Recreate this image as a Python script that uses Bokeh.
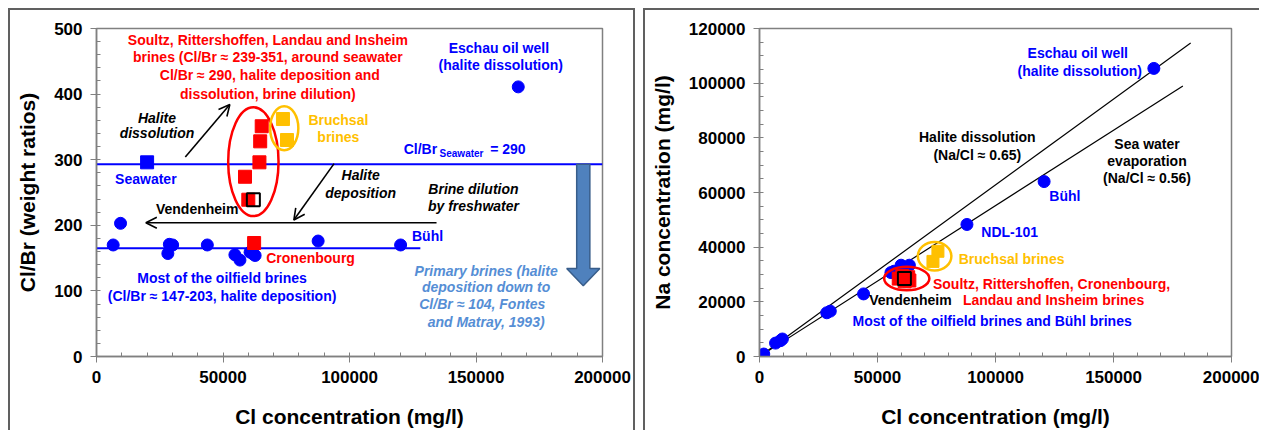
from bokeh.plotting import figure
from bokeh.layouts import row
from bokeh.models import Range1d, FixedTicker, Arrow, OpenHead
from bokeh.core.properties import value
from bokeh.embed import file_html
from bokeh.resources import INLINE

FONT = "Liberation Sans"

# ---------------- Left panel data: Cl (mg/l) vs Cl/Br (weight ratio) ----------------
oil_cl = [6600, 9500, 28200, 28800, 30100, 43800, 54700, 56700, 60700, 62000, 62700, 87600, 120200]
oil_clbr = [170, 203, 157, 171, 170, 170, 155, 147, 159, 156, 154, 176, 170]
eschau_cl = [166700]
eschau_clbr = [411]
seawater_cl = [20000]
seawater_clbr = [296]
red_cl = [58700, 60000, 64400, 64700, 65300, 62300]
red_clbr = [274, 239, 296, 328, 351, 173]
vend_cl = [62000]
vend_clbr = [239]
bruch_cl = [73700, 75300]
bruch_clbr = [362, 330]
seawater_ratio_line = 293
oilfield_ratio_line = 165
oilfield_line_end = 128000

# ---------------- Right panel data: Cl vs Na (mg/l) ----------------
na_blue_cl = [1800, 6800, 8900, 9700, 28500, 30000, 44100, 55700, 57000, 60000, 62000, 63500, 87900, 120600, 167100]
na_blue_na = [900, 4900, 5800, 6400, 16000, 16600, 22900, 30700, 31200, 33400, 32500, 33400, 48300, 64000, 105400]
na_red_cl = [59000, 60500, 62000, 63000, 63500, 61500]
na_red_na = [28500, 29500, 28000, 29000, 27800, 27500]
na_vend_cl = [61400]
na_vend_na = [28500]
na_bruch_cl = [73500, 75600]
na_bruch_na = [34800, 38500]
halite_line_cl = [0, 182700]
halite_line_na = [0, 114700]
sea_line_cl = [0, 179400]
sea_line_na = [0, 99000]

BLUE = "#0000FF"
RED = "#FF0000"
ORANGE = "#FFC000"
LBLUE = "#558ED5"
GRAY = "#808080"
ANN = "14px"


def style_axes(p, xticks, xminor, yticks, yminor):
    p.xaxis.ticker = FixedTicker(ticks=xticks, minor_ticks=xminor)
    p.yaxis.ticker = FixedTicker(ticks=yticks, minor_ticks=yminor)
    for ax in (p.xaxis, p.yaxis):
        ax.formatter.use_scientific = False
        ax.axis_line_color = GRAY
        ax.axis_line_width = 1.5
        ax.major_tick_line_color = GRAY
        ax.minor_tick_line_color = GRAY
        ax.major_tick_out = 6
        ax.major_tick_in = 0
        ax.minor_tick_in = 4
        ax.minor_tick_out = 0
        ax.major_label_text_font = FONT
        ax.major_label_text_font_style = "bold"
        ax.major_label_text_font_size = "17px"
        ax.major_label_text_color = "black"
        ax.axis_label_text_font = FONT
        ax.axis_label_text_font_style = "bold"
        ax.axis_label_text_font_size = "21px"
        ax.axis_label_text_color = "black"
        ax.major_label_standoff = 8
    p.xaxis.axis_label_standoff = 19
    p.yaxis.axis_label_standoff = 12
    p.xgrid.visible = False
    p.ygrid.visible = False
    p.outline_line_color = GRAY
    p.outline_line_width = 1.5


def txt(p, x, y, t, color="black", size=ANN, style="bold", align="center"):
    p.text(x=[x], y=[y], text=[t], text_font=value(FONT), text_font_size=size,
           text_font_style=style, text_color=color, text_align=align,
           text_baseline="middle")


def arrow(p, x0, y0, x1, y1):
    p.add_layout(Arrow(end=OpenHead(size=11, line_width=1.6, line_color="black"),
                       x_start=x0, y_start=y0, x_end=x1, y_end=y1,
                       line_width=1.6, line_color="black"))


BORDER = "2px solid #606060"

# ====================== LEFT FIGURE ======================
p1 = figure(width=627, height=422, output_backend="svg", toolbar_location=None,
            x_range=Range1d(0, 200000), y_range=Range1d(0, 500),
            min_border_left=86, min_border_right=35, min_border_top=18, min_border_bottom=74,
            styles={"border-top": BORDER, "border-left": BORDER, "border-right": BORDER,
                    "box-sizing": "border-box"})
p1.xaxis.axis_label = "Cl concentration (mg/l)"
p1.yaxis.axis_label = "Cl/Br (weight ratios)"
style_axes(p1, [0, 50000, 100000, 150000, 200000], list(range(0, 200001, 10000)),
           [0, 100, 200, 300, 400, 500], list(range(0, 501, 20)))

p1.line([0, 200000], [seawater_ratio_line, seawater_ratio_line], line_color=BLUE, line_width=2)
p1.line([0, oilfield_line_end], [oilfield_ratio_line, oilfield_ratio_line], line_color=BLUE, line_width=2)

# big blue arrow (primary brines)
p1.patch([189800, 195000, 195000, 198950, 192400, 185850, 189800, 189800],
         [293, 293, 134, 134, 108, 134, 134, 293],
         fill_color="#4F81BD", line_color="#385D8A", line_width=1.5)

p1.scatter(oil_cl, oil_clbr, marker="circle", size=12, color=BLUE)
p1.scatter(eschau_cl, eschau_clbr, marker="circle", size=12, color=BLUE)
p1.scatter(seawater_cl, seawater_clbr, marker="square", size=13, color=BLUE)
p1.scatter(red_cl, red_clbr, marker="square", size=13, color=RED)
p1.scatter(bruch_cl, bruch_clbr, marker="square", size=13, color=ORANGE)
p1.scatter(vend_cl, vend_clbr, marker="square", size=13, fill_color=None, line_color="black", line_width=2)

p1.ellipse(x=[62000], y=[297], width=19900, height=166, fill_color=None, line_color=RED, line_width=2.5)
p1.ellipse(x=[74200], y=[348], width=11150, height=67, fill_color=None, line_color=ORANGE, line_width=2.5)

arrow(p1, 35100, 304, 52700, 384)
arrow(p1, 93900, 294, 78000, 208)
arrow(p1, 134400, 204, 19500, 204)

for yy, t in zip([482.8, 455.8, 428.4, 400.9],
                 ["Soultz, Rittershoffen,  Landau and Insheim",
                  "brines (Cl/Br \u2248 239-351,  around seawater",
                  "Cl/Br \u2248 290, halite deposition and",
                  "dissolution,  brine dilution)"]):
    txt(p1, 68500, yy, t, RED)
txt(p1, 159800, 471, "Eschau  oil well", BLUE)
txt(p1, 159800, 445, "(halite dissolution)", BLUE)
txt(p1, 95600, 361, "Bruchsal", ORANGE)
txt(p1, 95600, 335, "brines", ORANGE)
txt(p1, 121400, 317, "Cl/Br", BLUE, align="left")
txt(p1, 135600, 310, "Seawater", BLUE, size="10px", align="left")
txt(p1, 155600, 317, "=  290", BLUE, align="left")
txt(p1, 104400, 276, "Halite", "black", style="bold italic")
txt(p1, 104400, 250, "deposition", "black", style="bold italic")
txt(p1, 149000, 254.6, "Brine dilution", "black", style="bold italic")
txt(p1, 149000, 228.7, "by freshwater", "black", style="bold italic")
txt(p1, 23900, 364, "Halite", "black", style="bold italic")
txt(p1, 23900, 340, "dissolution", "black", style="bold italic")
txt(p1, 19500, 271, "Seawater", BLUE)
txt(p1, 39800, 225, "Vendenheim", "black")
txt(p1, 67100, 150, "Cronenbourg", RED, align="left")
txt(p1, 124700, 183, "B\u00fchl", BLUE, align="left")
txt(p1, 50400, 120, "Most  of the oilfield brines", BLUE)
txt(p1, 50400, 92, "(Cl/Br \u2248 147-203,  halite deposition)", BLUE)
for yy, t in zip([131, 105.6, 79.7, 52.3],
                 ["Primary brines (halite", "deposition down to",
                  "Cl/Br  \u2248  104, Fontes", "and Matray, 1993)"]):
    txt(p1, 154000, yy, t, LBLUE, style="bold italic")

# ====================== RIGHT FIGURE ======================
p2 = figure(width=616, height=422, output_backend="svg", toolbar_location=None,
            x_range=Range1d(0, 200000), y_range=Range1d(0, 120000),
            min_border_left=114, min_border_right=30, min_border_top=18, min_border_bottom=76,
            styles={"border-top": BORDER, "border-left": BORDER, "box-sizing": "border-box"})
p2.xaxis.axis_label = "Cl concentration (mg/l)"
p2.yaxis.axis_label = "Na concentration (mg/l)"
style_axes(p2, [0, 50000, 100000, 150000, 200000], list(range(0, 200001, 10000)),
           list(range(0, 120001, 20000)), list(range(0, 120001, 5000)))

p2.line(halite_line_cl, halite_line_na, line_color="black", line_width=1.2)
p2.line(sea_line_cl, sea_line_na, line_color="black", line_width=1.2)

p2.scatter(na_blue_cl, na_blue_na, marker="circle", size=12, color=BLUE)
p2.scatter(na_red_cl, na_red_na, marker="square", size=13, color=RED)
p2.scatter(na_bruch_cl, na_bruch_na, marker="square", size=12, color=ORANGE)
p2.scatter(na_vend_cl, na_vend_na, marker="square", size=13, fill_color=None, line_color="black", line_width=2)

p2.ellipse(x=[62400], y=[28500], width=19150, height=8600, fill_color=None, line_color=RED, line_width=2.5)
p2.ellipse(x=[74200], y=[36700], width=14200, height=10400, fill_color=None, line_color=ORANGE, line_width=2.5)

txt(p2, 135700, 111200, "Eschau  oil well", BLUE)
txt(p2, 135700, 104500, "(halite dissolution)", BLUE)
txt(p2, 92300, 80200, "Halite dissolution", "black")
txt(p2, 92300, 73600, "(Na/Cl \u2248 0.65)", "black")
txt(p2, 164200, 77800, "Sea water", "black")
txt(p2, 164200, 71700, "evaporation", "black")
txt(p2, 164200, 65200, "(Na/Cl \u2248 0.56)", "black")
txt(p2, 122800, 58800, "B\u00fchl", BLUE, align="left")
txt(p2, 94000, 45600, "NDL-101", BLUE, align="left")
txt(p2, 84400, 35600, "Bruchsal  brines", ORANGE, align="left")
txt(p2, 73500, 26600, "Soultz, Rittershoffen,  Cronenbourg,", RED, align="left")
txt(p2, 46500, 20500, "Vendenheim", "black", align="left")
txt(p2, 86200, 20500, "Landau and Insheim brines", RED, align="left")
txt(p2, 39400, 12900, "Most  of the oilfield brines and B\u00fchl brines", BLUE, align="left")

layout = row(p1, p2, spacing=8, margin=(8, 0, 0, 8))
open("out.html", "w").write(file_html(layout, INLINE))
